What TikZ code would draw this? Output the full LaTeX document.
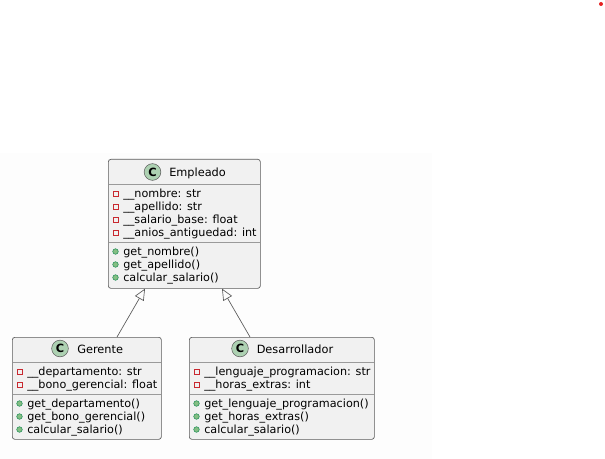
\documentclass[tikz,border=0pt]{standalone}
\usepackage{fontspec}
\setmainfont{DejaVu Sans}
\usepackage{tikz}
\usetikzlibrary{arrows.meta,calc}
\definecolor{boxfill}{HTML}{F1F1F1}
\definecolor{boxline}{HTML}{5A5A5A}
\definecolor{sepline}{HTML}{9A9A9A}
\definecolor{privred}{HTML}{C82930}
\definecolor{pubgreen}{HTML}{84BE84}
\definecolor{publine}{HTML}{038048}
\definecolor{iconfill}{HTML}{ADD1B2}
\definecolor{areafill}{HTML}{FDFDFD}
\definecolor{dotred}{HTML}{E52222}

\begin{document}
\begin{tikzpicture}[x=0.75pt,y=0.75pt,yscale=-1,xscale=1,
    classbox/.style={draw=boxline,fill=boxfill,rounded corners=1.9pt,line width=0.5pt,anchor=north west,inner sep=0pt},
    sep/.style={draw=sepline,line width=0.6pt},
    member/.style={anchor=base west,inner sep=0pt,font=\fontsize{8.4}{10}\selectfont},
    title/.style={anchor=base west,inner sep=0pt,font=\fontsize{8.5}{10}\selectfont},
    cicon/.style={circle,draw=boxline,fill=iconfill,line width=0.4pt,minimum size=12.5pt,inner sep=0pt,font=\fontsize{8.5}{10}\selectfont\bfseries},
    priv/.style={rectangle,draw=privred,line width=0.5pt,minimum size=3.8pt,inner sep=0pt},
    pub/.style={circle,draw=publine,fill=pubgreen,line width=0.3pt,minimum size=4.2pt,inner sep=0pt},
    extends/.style={draw=boxline,line width=0.5pt,-{Triangle[open,length=8.5pt,width=7.5pt]}}]
        \useasboundingbox (0,0) rectangle (605,459);
        \fill[areafill] (0,153) rectangle (432,459);
        \fill[dotred] (601,4) circle (2);

        % Empleado
        \node[classbox,minimum width=114pt,minimum height=96.75pt] (emp) at (108,159) {};
        \draw[sep] ($(emp.north west)+(0.5,25)$) -- ($(emp.north east)+(-0.5,25)$);
        \draw[sep] ($(emp.north west)+(0.5,83)$) -- ($(emp.north east)+(-0.5,83)$);
        \node[cicon] (empC) at (152.5,172) {C};
        \node[title] (empT) at (169,176.5) {Empleado};
        \node[priv] (empP1) at (115.5,193.5) {};
        \node[priv] (empP2) at (115.5,206.5) {};
        \node[priv] (empP3) at (115.5,219.5) {};
        \node[priv] (empP4) at (115.5,232.5) {};
        \node[member] (empA1) at (123,197.5) {\_\_nombre: str};
        \node[member] (empA2) at (123,210.5) {\_\_apellido: str};
        \node[member] (empA3) at (123,223.5) {\_\_salario\_base: float};
        \node[member] (empA4) at (123,236.5) {\_\_anios\_antiguedad: int};
        \node[pub] (empM1i) at (115.5,251.5) {};
        \node[pub] (empM2i) at (115.5,264.5) {};
        \node[pub] (empM3i) at (115.5,277.5) {};
        \node[member] (empM1) at (123,255.5) {get\_nombre()};
        \node[member] (empM2) at (123,268.5) {get\_apellido()};
        \node[member] (empM3) at (123,281.5) {calcular\_salario()};

        % Gerente
        \node[classbox,minimum width=111.75pt,minimum height=76.5pt] (ger) at (12,337) {};
        \draw[sep] ($(ger.north west)+(0.5,25)$) -- ($(ger.north east)+(-0.5,25)$);
        \draw[sep] ($(ger.north west)+(0.5,57)$) -- ($(ger.north east)+(-0.5,57)$);
        \node[cicon] (gerC) at (60,348.5) {C};
        \node[title] (gerT) at (77,353) {Gerente};
        \node[priv] (gerP1) at (19.5,371.5) {};
        \node[priv] (gerP2) at (19.5,384.5) {};
        \node[member] (gerA1) at (27,375.5) {\_\_departamento: str};
        \node[member] (gerA2) at (27,388.5) {\_\_bono\_gerencial: float};
        \node[pub] (gerM1i) at (19.5,403.5) {};
        \node[pub] (gerM2i) at (19.5,416.5) {};
        \node[pub] (gerM3i) at (19.5,429.5) {};
        \node[member] (gerM1) at (27,407.5) {get\_departamento()};
        \node[member] (gerM2) at (27,420.5) {get\_bono\_gerencial()};
        \node[member] (gerM3) at (27,433.5) {calcular\_salario()};

        % Desarrollador
        \node[classbox,minimum width=138.75pt,minimum height=76.5pt] (dev) at (189,337) {};
        \draw[sep] ($(dev.north west)+(0.5,25)$) -- ($(dev.north east)+(-0.5,25)$);
        \draw[sep] ($(dev.north west)+(0.5,57)$) -- ($(dev.north east)+(-0.5,57)$);
        \node[cicon] (devC) at (240,348.5) {C};
        \node[title] (devT) at (256.5,353) {Desarrollador};
        \node[priv] (devP1) at (196.5,371.5) {};
        \node[priv] (devP2) at (196.5,384.5) {};
        \node[member] (devA1) at (204,375.5) {\_\_lenguaje\_programacion: str};
        \node[member] (devA2) at (204,388.5) {\_\_horas\_extras: int};
        \node[pub] (devM1i) at (196.5,403.5) {};
        \node[pub] (devM2i) at (196.5,416.5) {};
        \node[pub] (devM3i) at (196.5,429.5) {};
        \node[member] (devM1) at (204,407.5) {get\_lenguaje\_programacion()};
        \node[member] (devM2) at (204,420.5) {get\_horas\_extras()};
        \node[member] (devM3) at (204,433.5) {calcular\_salario()};

        % herencia
        \draw[extends] ($(ger.north west)+(105,0)$) -- ($(emp.south west)+(37,0)$);
        \draw[extends] ($(dev.north west)+(61,0)$) -- ($(emp.south west)+(114,0)$);
\end{tikzpicture}
\end{document}
